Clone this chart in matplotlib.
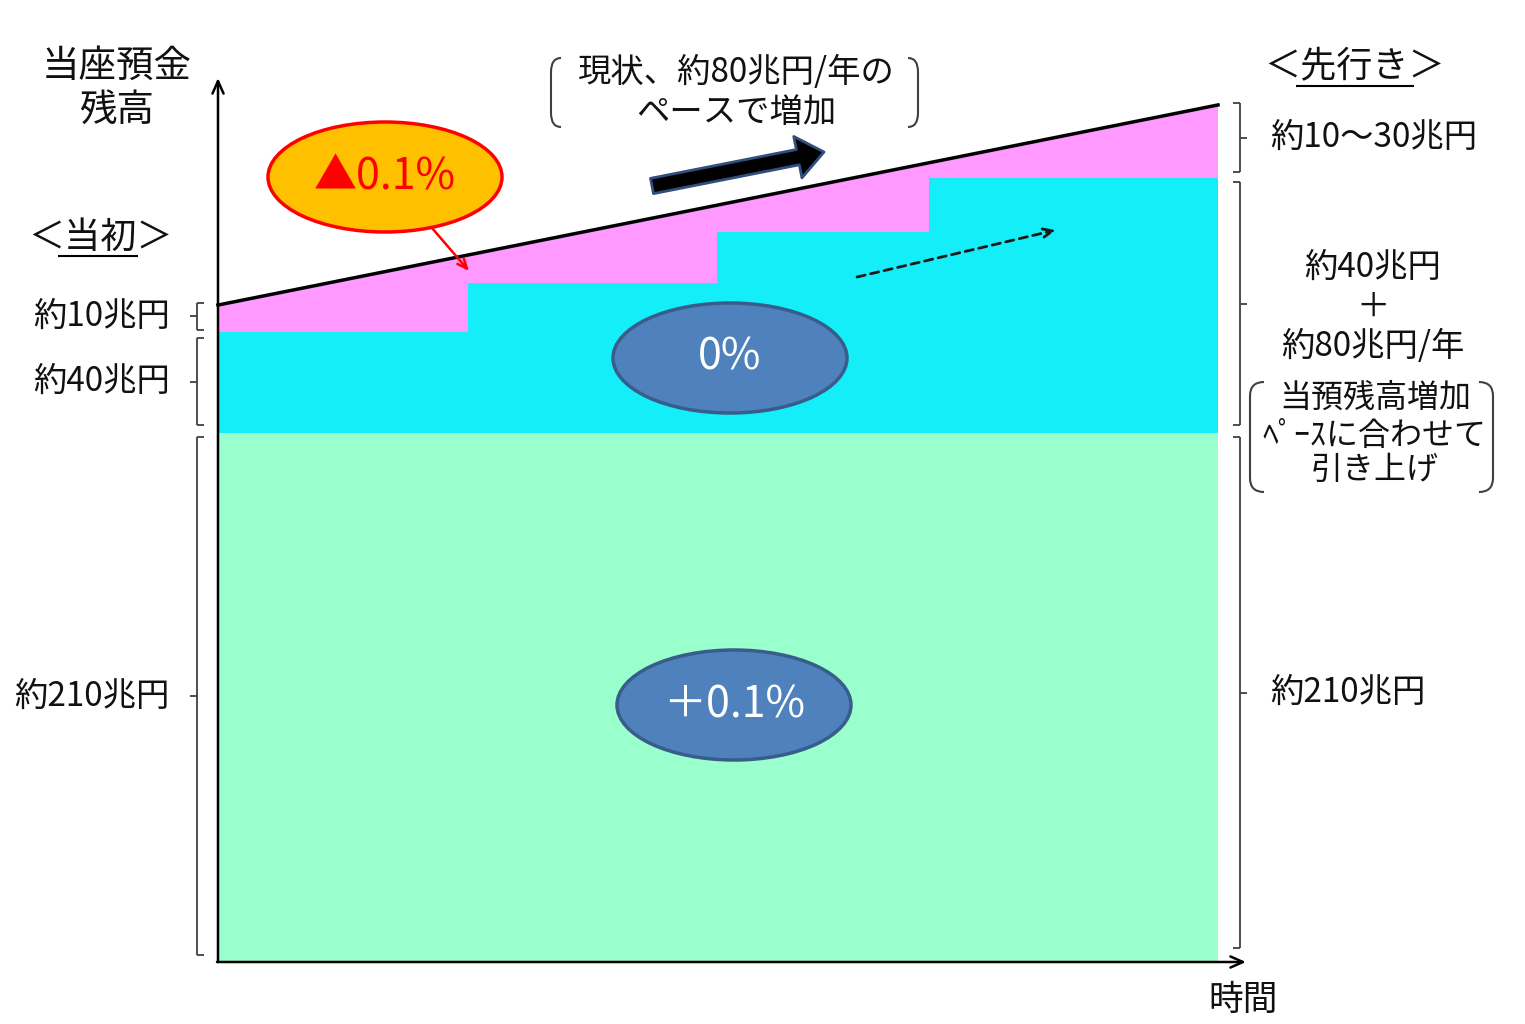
import matplotlib.pyplot as plt
from matplotlib.patches import Ellipse, PathPatch
from matplotlib.path import Path

plt.rcParams['font.family'] = ['Noto Sans CJK JP', 'DejaVu Sans']

# balances in 兆円 (time runs 0..1)
plus_layer = 210                          # +0.1% tier
step_times = [0, 0.25, 0.499, 0.711, 1.0]  # when the 0% tier is raised
zero_layer = [40, 59.4, 79.7, 101.1]       # 0% tier size at each step
total_start, total_end = 260.7, 340.1      # total current account balance

left_labels = ['約10兆円', '約40兆円', '約210兆円']
right_labels = ['約10～30兆円', '約40兆円\n＋\n約80兆円/年', '約210兆円']
rate_labels = ['▲0.1%', '0%', '＋0.1%']

PX_X = 1000.0   # pixels per unit of time
PX_Y = 2.52     # pixels per 兆円
X0, Y0 = 218, 962


def P(px, py):
    # pixel position of the reference -> data coords
    return ((px - X0) / PX_X, (Y0 - py) / PX_Y)


fig = plt.figure(figsize=(15.25, 10.24), dpi=100)
ax = fig.add_axes([0, 0, 1, 1])
ax.set_xlim(-X0 / PX_X, (1525 - X0) / PX_X)
ax.set_ylim(-(1024 - Y0) / PX_Y, Y0 / PX_Y)
ax.axis('off')

# layers
ax.fill_between([0, 1], 0, plus_layer, color='#99FFCC', lw=0, zorder=1)
cyan_top = [plus_layer + z for z in zero_layer]
xs, ys = [], []
for i in range(len(zero_layer)):
    xs += [step_times[i], step_times[i + 1]]
    ys += [cyan_top[i], cyan_top[i]]
ax.fill_between(xs, plus_layer, ys, color='#14EEF8', lw=0, zorder=1)
ax.fill(xs + [1, 0], ys + [total_end, total_start], color='#FF99FF', lw=0, zorder=1)
ax.plot([0, 1], [total_start, total_end], color='black', lw=2.5, zorder=3)

# axes arrows
head = '->,head_width=0.4,head_length=0.9'
ax.annotate('', xy=P(218, 78), xytext=P(218, 962),
            arrowprops=dict(arrowstyle=head, lw=1.8, color='black', shrinkA=0, shrinkB=0), zorder=4)
ax.annotate('', xy=P(1246, 962), xytext=P(217, 962),
            arrowprops=dict(arrowstyle=head, lw=1.8, color='black', shrinkA=0, shrinkB=0), zorder=4)

fs = 24


def text(px, py, s, size=fs, ha='center', **kw):
    x, y = P(px, py)
    ax.text(x, y, s, fontsize=size, ha=ha, va='center', color='#111111', zorder=6, **kw)


def seg(p1, p2, color='#404040', lw=1.3):
    a, b = P(*p1), P(*p2)
    ax.plot([a[0], b[0]], [a[1], b[1]], color=color, lw=lw, zorder=5, solid_capstyle='butt')


def brace(x, y0, y1, d):
    # square brace: ends point toward the chart, middle tick points to the label
    seg((x, y0), (x, y1))
    seg((x, y0), (x + d, y0))
    seg((x, y1), (x + d, y1))
    ym = (y0 + y1) / 2
    seg((x, ym), (x - d, ym))
    return ym


def paren(x, y0, y1, d, r=14):
    verts = [(x + d, y0), (x, y0), (x, y0 + r), (x, y1 - r), (x, y1), (x + d, y1)]
    verts = [P(*v) for v in verts]
    codes = [Path.MOVETO, Path.CURVE3, Path.CURVE3, Path.LINETO, Path.CURVE3, Path.CURVE3]
    ax.add_patch(PathPatch(Path(verts, codes), fc='none', ec='#404040', lw=1.5, zorder=5))


# left side
text(117, 66, '当座預金', size=27)
text(117, 110, '残高', size=27)
text(100, 238, '＜当初＞', size=26)
seg((58, 256), (138, 256), color='black', lw=1.5)
left_spans = [(303, 330), (338, 425), (437, 955)]
for (a, b), lab in zip(left_spans, left_labels):
    ym = brace(197, a, b, 7)
    text(170, ym, lab, ha='right')

# right side
text(1355, 66, '＜先行き＞', size=26)
seg((1296, 86), (1414, 86), color='black', lw=1.5)
right_spans = [(103, 172), (182, 425), (437, 948)]
for (a, b), lab in zip(right_spans, right_labels):
    ym = brace(1240, a, b, -7)
    if '\n' in lab:
        for k, line in enumerate(lab.split('\n')):
            text(1373, 267 + 40 * k, line)
    else:
        text(1270, ym, lab, ha='left')
text(1375, 398, '当預残高増加', size=23)
text(1374, 436, 'ﾍﾟｰｽに合わせて', size=23)
text(1375, 470, '引き上げ', size=23)
paren(1250, 382, 492, 14)
paren(1493, 382, 492, -14)

# top note
text(736, 73, '現状、約80兆円/年の')
text(736, 113, 'ペースで増加')
paren(551, 58, 127, 10)
paren(918, 58, 127, -10)

# arrows
ax.annotate('', xy=P(824, 152), xytext=P(652, 186),
            arrowprops=dict(arrowstyle='simple,tail_width=0.7,head_width=1.9,head_length=1.2',
                            fc='black', ec='#2F4F7F', lw=2, mutation_scale=16,
                            shrinkA=0, shrinkB=0), zorder=5)
ax.annotate('', xy=P(469, 271), xytext=P(432, 228),
            arrowprops=dict(arrowstyle='->,head_width=0.3,head_length=0.7', color='red', lw=1.8,
                            shrinkA=0, shrinkB=0), zorder=5)
ax.annotate('', xy=P(1056, 230), xytext=P(857, 277),
            arrowprops=dict(arrowstyle='->,head_width=0.3,head_length=0.7', color='#1a1a1a', lw=2,
                            linestyle=(0, (3, 2)), shrinkA=0, shrinkB=0), zorder=5)

# rate ellipses
ell = [((385, 177), '#FFC000', '#FF0000', 'red'),
       ((730, 358), '#4F81BD', '#385D8A', 'white'),
       ((734, 705), '#4F81BD', '#385D8A', 'white')]
for ((cx, cy), fc, ec, tc), lab in zip(ell, rate_labels):
    ax.add_patch(Ellipse(P(cx, cy), 234 / PX_X, 110 / PX_Y, fc=fc, ec=ec, lw=2.5, zorder=6))
    x, y = P(cx, cy)
    ax.text(x, y, lab, fontsize=31, color=tc, ha='center', va='center', zorder=7)

text(1243, 1000, '時間', size=25)

fig.savefig('out.png', dpi=100)
